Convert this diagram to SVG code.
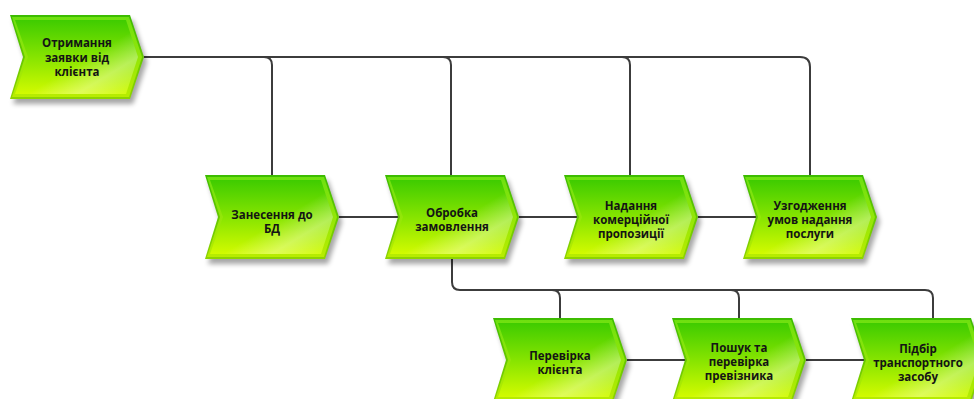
<svg xmlns="http://www.w3.org/2000/svg" xmlns:xlink="http://www.w3.org/1999/xlink" width="974" height="399" viewBox="0 0 974 399">
<style>
.c{fill:none;stroke:#3c3c3c;stroke-width:2}
.t{font-family:"Open Sans","DejaVu Sans",sans-serif;font-weight:bold;font-size:11.5px;fill:#141414;text-anchor:middle}
</style>
<defs>
<linearGradient id="go" x1="0" y1="0" x2="0" y2="1">
<stop offset="0" stop-color="#3cbc00"/>
<stop offset="1" stop-color="#8ed400"/>
</linearGradient>
<linearGradient id="gb" x1="0" y1="0" x2="0" y2="1">
<stop offset="0" stop-color="#6ee010"/>
<stop offset="1" stop-color="#b8ec00"/>
</linearGradient>
<linearGradient id="gi" x1="0" y1="0" x2="0" y2="1">
<stop offset="0" stop-color="#3fcc00"/>
<stop offset="0.5" stop-color="#86e400"/>
<stop offset="1" stop-color="#d2fb00"/>
</linearGradient>
<linearGradient id="gh" x1="0" y1="0" x2="1" y2="1">
<stop offset="0" stop-color="#ffffff" stop-opacity="0"/>
<stop offset="0.55" stop-color="#ffffff" stop-opacity="0"/>
<stop offset="0.75" stop-color="#ffffff" stop-opacity="0.35"/>
<stop offset="1" stop-color="#ffffff" stop-opacity="0"/>
</linearGradient>
<filter id="sh" x="-10%" y="-10%" width="130%" height="140%">
<feGaussianBlur stdDeviation="2.5"/>
</filter>
<g id="chev">
<polygon points="3,5 123,5 137,47 123,89 3,89 16,47" fill="#000" opacity="0.35" filter="url(#sh)"/>
<polygon points="0,0 120,0 134,42 120,84 0,84 13,42" fill="url(#go)"/>
<polygon points="2,2 119,2 132,42 119,82 2,82 15,42" fill="url(#gb)"/>
<polygon points="5,5 116,5 128,42 116,79 5,79 18,42" fill="url(#gi)"/>
<polygon points="5,5 116,5 128,42 116,79 5,79 18,42" fill="url(#gh)"/>
</g>
</defs>
<g id="connectors">
<path class="c" d="M144,57 H800 Q810,57 810,67 V175"/>
<path class="c" d="M264,57 Q272,57 272,65 V175"/>
<path class="c" d="M443,57 Q451,57 451,65 V175"/>
<path class="c" d="M622,57 Q630,57 630,65 V175"/>
<path class="c" d="M339,217 H398"/>
<path class="c" d="M519,217 H577"/>
<path class="c" d="M698,217 H756"/>
<path class="c" d="M452,259 V282 Q452,290 460,290 H925 Q933,290 933,298 V318"/>
<path class="c" d="M552,290 Q560,290 560,298 V318"/>
<path class="c" d="M731,290 Q739,290 739,298 V318"/>
<path class="c" d="M627,360 H685"/>
<path class="c" d="M806,360 H864"/>
</g>
<g id="n1" transform="translate(10,15)">
<use xlink:href="#chev"/>
<text class="t" x="67" y="32">Отримання</text>
<text class="t" x="67" y="47">заявки від</text>
<text class="t" x="67" y="61">клієнта</text>
</g>
<g id="n2" transform="translate(205,175)">
<use xlink:href="#chev"/>
<text class="t" x="67" y="44">Занесення до</text>
<text class="t" x="67" y="58">БД</text>
</g>
<g id="n3" transform="translate(385,175)">
<use xlink:href="#chev"/>
<text class="t" x="67" y="42">Обробка</text>
<text class="t" x="67" y="56">замовлення</text>
</g>
<g id="n4" transform="translate(564,175)">
<use xlink:href="#chev"/>
<text class="t" x="67" y="35">Надання</text>
<text class="t" x="67" y="49">комерційної</text>
<text class="t" x="67" y="63">пропозиції</text>
</g>
<g id="n5" transform="translate(743,175)">
<use xlink:href="#chev"/>
<text class="t" x="67" y="35">Узгодження</text>
<text class="t" x="67" y="49">умов надання</text>
<text class="t" x="67" y="63">послуги</text>
</g>
<g id="n6" transform="translate(493,318)">
<use xlink:href="#chev"/>
<text class="t" x="67" y="42">Перевірка</text>
<text class="t" x="67" y="56">клієнта</text>
</g>
<g id="n7" transform="translate(672,318)">
<use xlink:href="#chev"/>
<text class="t" x="67" y="34">Пошук та</text>
<text class="t" x="67" y="48">перевірка</text>
<text class="t" x="67" y="62">превізника</text>
</g>
<g id="n8" transform="translate(851,318)">
<use xlink:href="#chev"/>
<text class="t" x="67" y="35">Підбір</text>
<text class="t" x="67" y="49">транспортного</text>
<text class="t" x="67" y="63">засобу</text>
</g>
</svg>
